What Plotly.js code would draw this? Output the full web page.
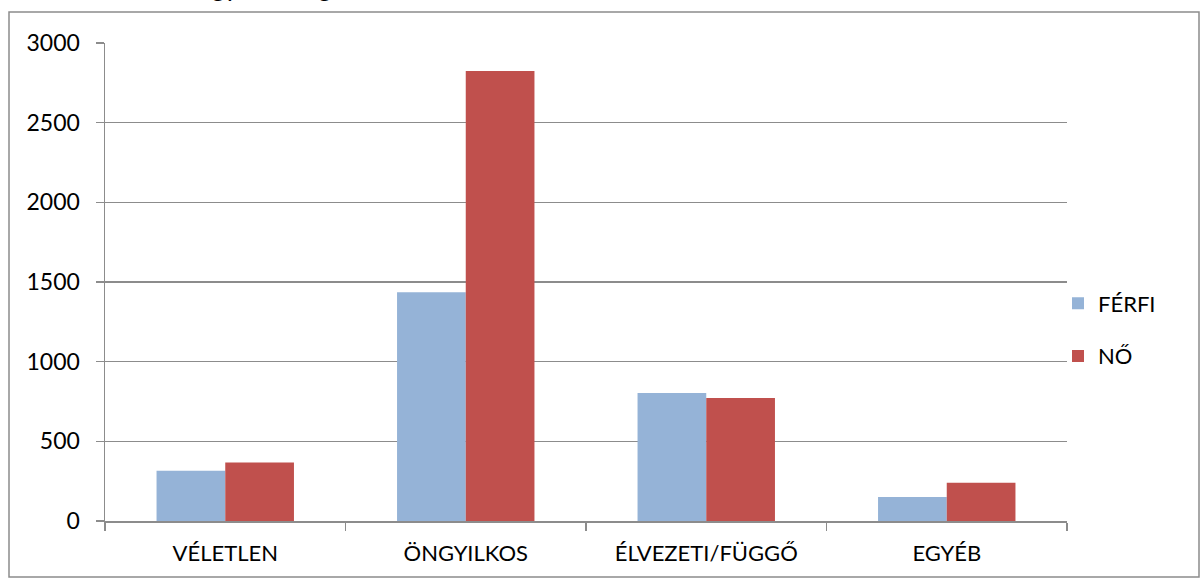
<!DOCTYPE html>
<html>
<head>
<meta charset="utf-8">
<script src="https://cdn.plot.ly/plotly-3.0.1.min.js"></script>
<style>html,body{margin:0;padding:0;background:#fff;}#chart{width:1202px;height:580px;}</style>
</head>
<body>
<div id="chart"></div>
<script>
var categories = ["VÉLETLEN", "ÖNGYILKOS", "ÉLVEZETI/FÜGGŐ", "EGYÉB"];
var ferfiValues = [316, 1435, 803, 150];
var noValues = [367, 2825, 772, 240];
var seriesNames = ["FÉRFI", "NŐ"];
var yTicks = [0, 500, 1000, 1500, 2000, 2500, 3000];
var titleText = "Halálozás gyakorisága nemenként";

var W = 1202, H = 580;
var L = 105, R = 1067, T = 43, B = 521;
var pw = R - L, ph = B - T;
function px(x) { return (x - L) / pw; }
function py(y) { return (B - y) / ph; }

var font = "Lato, 'Open Sans', sans-serif";
var grid = "#8c8c8c";

var data = [
  {type: "bar", name: seriesNames[0], x: categories, y: ferfiValues,
   marker: {color: "#95B3D7"}, legendgroup: "a"},
  {type: "bar", name: seriesNames[1], x: categories, y: noValues,
   marker: {color: "#C0504D"}, legendgroup: "b"}
];

var layout = {
  width: W, height: H,
  margin: {l: L, r: W - R, t: T, b: H - B, pad: 0},
  paper_bgcolor: "#fff", plot_bgcolor: "#fff",
  font: {family: font, size: 22, color: "#000"},
  barmode: "group",
  bargap: 0.4286, bargroupgap: 0,
  showlegend: true,
  legend: {x: px(1058), y: py(330), xanchor: "left", yanchor: "middle",
           traceorder: "grouped", tracegroupgap: 21,
           font: {family: font, size: 22, color: "#000"},
           bgcolor: "rgba(0,0,0,0)"},
  xaxis: {type: "category", tickson: "boundaries", ticks: "outside", ticklen: 8,
          tickcolor: grid, tickwidth: 1.5, showline: true, linecolor: grid, linewidth: 1.5,
          showgrid: false, zeroline: false, ticklabelstandoff: 12,
          tickfont: {family: font, size: 22, color: "#000"}},
  yaxis: {range: [0, 3000], tickvals: yTicks, ticktext: yTicks.map(String),
          ticks: "outside", ticklen: 8, tickcolor: grid, tickwidth: 1.5,
          showline: true, linecolor: grid, linewidth: 1.5,
          showgrid: true, gridcolor: grid, gridwidth: 1.5, zeroline: false,
          ticklabelstandoff: 11,
          tickfont: {family: font, size: 23, color: "#000"}},
  shapes: [
    {type: "rect", xref: "paper", yref: "paper",
     x0: px(9), x1: px(1199), y0: py(577), y1: py(12),
     line: {color: grid, width: 1.5}, fillcolor: "rgba(0,0,0,0)", layer: "below"}
  ],
  annotations: [
    {text: titleText, xref: "paper", yref: "paper", x: px(95), y: py(-14),
     xanchor: "left", yanchor: "middle", showarrow: false,
     font: {family: font, size: 26, color: "#000"}}
  ]
};

Plotly.newPlot("chart", data, layout, {displayModeBar: false, staticPlot: true});
</script>
</body>
</html>
